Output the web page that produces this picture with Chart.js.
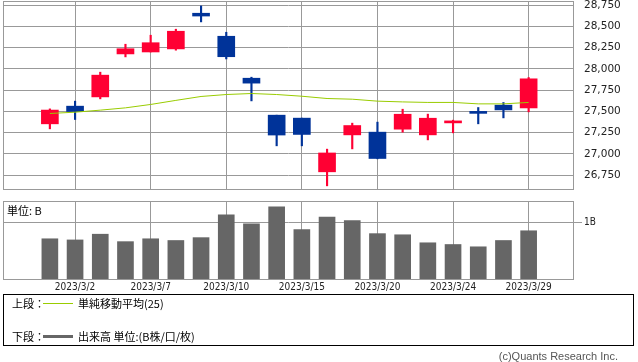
<!DOCTYPE html>
<html>
<head>
<meta charset="utf-8">
<script src="https://cdn.jsdelivr.net/npm/chart.js@4"></script>
<style>
body { margin: 0; background: #fff; }
#wrap { position: relative; width: 638px; height: 362px; overflow: hidden; font-family: "Noto Sans CJK JP", sans-serif; color: #000; }
#wrap canvas { position: absolute; left: 0; }
.txt { position: absolute; font-size: 11px; line-height: 13px; white-space: nowrap; }
#legend { position: absolute; left: 3px; top: 294px; width: 631px; height: 52px; border: 1px solid #000; box-sizing: border-box; }
#copy { position: absolute; right: 20px; top: 350px; font-family: "Liberation Sans", sans-serif; font-size: 11px; color: #555; }
</style>
</head>
<body>
<div id="wrap">
  <canvas id="price" width="638" height="192" style="top:0"></canvas>
  <canvas id="vol" width="638" height="104" style="top:192px"></canvas>
  <div class="txt" style="left:7px;top:204px">単位: B</div>
  <div id="legend"></div>
  <div class="txt" style="left:12px;top:297px">上段：</div>
  <div style="position:absolute;left:43px;top:303px;width:30px;height:1px;background:#99cc00"></div>
  <div class="txt" style="left:78px;top:297px">単純移動平均(25)</div>
  <div class="txt" style="left:12px;top:330px">下段：</div>
  <div style="position:absolute;left:43px;top:335px;width:30px;height:3px;background:#666"></div>
  <div class="txt" style="left:78px;top:330px">出来高 単位:(B株/口/枚)</div>
  <div id="copy">(c)Quants Research Inc.</div>
</div>
<script>
// daily data, March 2023
var dates = ['2023/3/1', '2023/3/2', '2023/3/3', '2023/3/6', '2023/3/7', '2023/3/8', '2023/3/9', '2023/3/10',
    '2023/3/13', '2023/3/14', '2023/3/15', '2023/3/16', '2023/3/17', '2023/3/20', '2023/3/22', '2023/3/23',
    '2023/3/24', '2023/3/27', '2023/3/28', '2023/3/29'];
var openV  = [27354, 27562, 27671, 28177, 28200, 28236, 28656, 28385, 27891, 27456, 27421, 26789, 27224, 27256, 27291, 27224, 27365, 27480, 27574, 27541];
var highV  = [27530, 27621, 27962, 28291, 28397, 28468, 28742, 28432, 27903, 27456, 27421, 27056, 27362, 27374, 27526, 27468, 27397, 27546, 27605, 27899];
var lowV   = [27295, 27405, 27648, 28142, 28200, 28221, 28554, 28118, 27624, 27095, 27095, 26624, 27059, 26942, 27256, 27165, 27248, 27354, 27424, 27495];
var closeV = [27516, 27499, 27927, 28238, 28309, 28444, 28623, 28144, 27833, 27222, 27229, 27011, 27334, 26946, 27467, 27420, 27385, 27477, 27518, 27884];
var ma25   = [27476, 27491, 27515, 27542, 27582, 27630, 27676, 27699, 27711, 27699, 27679, 27652, 27644, 27621, 27612, 27606, 27606, 27589, 27589, 27606];
var volume = [0.72, 0.70, 0.80, 0.67, 0.72, 0.69, 0.74, 1.14, 0.98, 1.28, 0.88, 1.10, 1.04, 0.81, 0.79, 0.65, 0.62, 0.58, 0.69, 0.86];

var priceTicks = [26750, 27000, 27250, 27500, 27750, 28000, 28250, 28500, 28750];
var dateTicks = [1, 4, 7, 10, 13, 16, 19];
var volTicks = [1];

var UP = '#ff0033', DOWN = '#003399', GRID = '#999999';

var framePlugin = {
    id: 'frame',
    afterDraw: function(chart) {
        var a = chart.chartArea, c = chart.ctx;
        c.save();
        c.strokeStyle = GRID;
        c.lineWidth = 1;
        var l = Math.round(a.left) + 0.5, t = Math.round(a.top) + 0.5;
        var r = Math.round(a.right) - 0.5, b = Math.round(a.bottom) - 0.5;
        c.strokeRect(l, t, r - l, b - t);
        c.restore();
    }
};

function barColors() {
    return closeV.map(function(c, i) { return c >= openV[i] ? UP : DOWN; });
}

// keep the axes from pushing the plot area around
function fixAxis(s, size) {
    if (s.isHorizontal()) s.height = size; else s.width = size;
    s.paddingTop = 0;
    s.paddingBottom = 0;
    s.paddingLeft = 0;
    s.paddingRight = 0;
}

function xScale(showLabels) {
    return {
        type: 'linear',
        min: -1.86,
        max: 20.8,
        offset: false,
        afterBuildTicks: function(s) { s.ticks = dateTicks.map(function(v) { return { value: v }; }); },
        afterFit: function(s) { fixAxis(s, showLabels ? 16 : 0); },
        grid: { color: GRID, drawTicks: false, offset: false },
        border: { display: false },
        ticks: {
            display: showLabels,
            padding: 1,
            autoSkip: false,
            maxRotation: 0,
            color: '#222',
            font: { family: 'DejaVu Sans Condensed', size: 10 },
            callback: function(v) { return dates[v]; }
        }
    };
}

Chart.defaults.animation = false;
Chart.defaults.responsive = false;
Chart.defaults.devicePixelRatio = 1;

new Chart(document.getElementById('price'), {
    type: 'bar',
    data: {
        datasets: [{
            type: 'line',
            data: ma25.map(function(v, i) { return { x: i, y: v }; }),
            borderColor: '#99cc00',
            borderWidth: 1,
            pointRadius: 0,
            tension: 0,
            order: 0
        }, {
            data: openV.map(function(o, i) { return { x: i, y: [o, closeV[i]] }; }),
            backgroundColor: barColors(),
            barThickness: 17,
            minBarLength: 2,
            grouped: false,
            order: 1
        }, {
            data: lowV.map(function(l, i) { return { x: i, y: [l, highV[i]] }; }),
            backgroundColor: barColors(),
            barThickness: 1.5,
            grouped: false,
            order: 2
        }]
    },
    options: {
        layout: { padding: { top: 1, left: 3, right: 0, bottom: 2 } },
        plugins: { legend: { display: false }, tooltip: { enabled: false } },
        scales: {
            x: xScale(false),
            y: {
                position: 'right',
                min: 26575,
                max: 28800,
                afterBuildTicks: function(s) { s.ticks = priceTicks.map(function(v) { return { value: v }; }); },
                afterFit: function(s) { fixAxis(s, 64); },
                grid: { color: GRID, drawTicks: false },
                border: { display: false },
                ticks: {
                    padding: 10,
                    color: '#222',
                    font: { family: 'DejaVu Sans', size: 10.5 },
                    callback: function(v) { return v.toLocaleString('en-US'); }
                }
            }
        }
    },
    plugins: [framePlugin]
});

new Chart(document.getElementById('vol'), {
    type: 'bar',
    data: {
        datasets: [{
            data: volume.map(function(v, i) { return { x: i, y: v }; }),
            backgroundColor: '#666666',
            barThickness: 16
        }]
    },
    options: {
        layout: { padding: { top: 9, left: 3, right: 0, bottom: 0 } },
        plugins: { legend: { display: false }, tooltip: { enabled: false } },
        scales: {
            x: xScale(true),
            y: {
                position: 'right',
                min: 0,
                max: 1.38,
                afterBuildTicks: function(s) { s.ticks = volTicks.map(function(v) { return { value: v }; }); },
                afterFit: function(s) { fixAxis(s, 64); },
                grid: { color: GRID, drawTicks: true, tickLength: 8 },
                border: { display: false },
                ticks: {
                    padding: 2,
                    color: '#222',
                    font: { family: 'DejaVu Sans Condensed', size: 10 },
                    callback: function(v) { return v + 'B'; }
                }
            }
        }
    },
    plugins: [framePlugin]
});
</script>
</body>
</html>
